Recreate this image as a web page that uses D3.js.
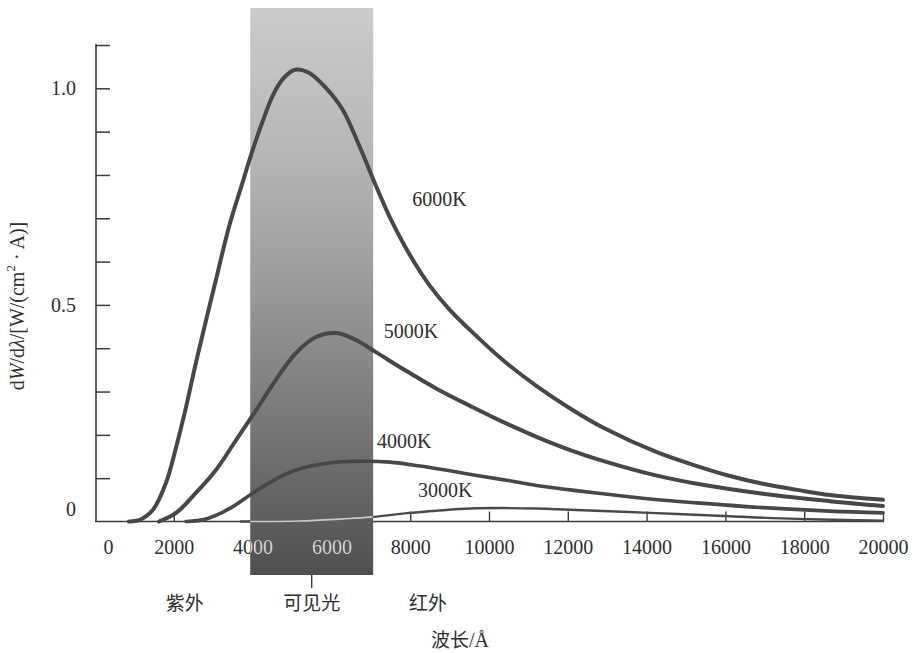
<!DOCTYPE html>
<html>
<head>
<meta charset="utf-8">
<script src="https://cdn.jsdelivr.net/npm/d3@7"></script>
<style>
  html, body { margin: 0; padding: 0; background: #ffffff; }
  svg { display: block; }
</style>
</head>
<body>
<svg id="chart" width="916" height="653"></svg>
<script>
// ---------- data ----------
const xTickValues = [0, 2000, 4000, 6000, 8000, 10000, 12000, 14000, 16000, 18000, 20000];
const yTickValues = [0.1, 0.2, 0.3, 0.4, 0.5, 0.6, 0.7, 0.8, 0.9, 1.0, 1.1];
const yLabelValues = [0, 0.5, 1.0];
const yLabelText = ["0", "0.5", "1.0"];

const wl6000 = [860, 1120, 1470, 1800, 2060, 2310, 2560, 2820, 3070, 3400, 3760, 4010, 4260, 4520, 4770, 5080, 5430, 5860, 6290, 6700, 7130, 7490, 8000, 8500, 9010, 9520, 10350, 11220, 12060, 12890, 14260, 15280, 16120, 16950, 17820, 18650, 20000];
const val6000 = [0, 0.003, 0.027, 0.089, 0.172, 0.264, 0.366, 0.465, 0.558, 0.680, 0.787, 0.860, 0.925, 0.985, 1.022, 1.043, 1.036, 1.001, 0.950, 0.869, 0.775, 0.701, 0.614, 0.544, 0.488, 0.442, 0.373, 0.312, 0.261, 0.217, 0.160, 0.128, 0.105, 0.087, 0.073, 0.061, 0.050];

const wl5000 = [1620, 2060, 2560, 3070, 3580, 4090, 4590, 5100, 5610, 6120, 6620, 7130, 7820, 8680, 9520, 10350, 11220, 12060, 12890, 14210, 15280, 16950, 18650, 20000];
const val5000 = [0, 0.020, 0.066, 0.119, 0.188, 0.257, 0.327, 0.389, 0.426, 0.435, 0.419, 0.391, 0.352, 0.306, 0.267, 0.230, 0.195, 0.165, 0.140, 0.107, 0.087, 0.064, 0.047, 0.036];

const wl4000 = [2310, 2820, 3400, 4010, 4590, 5100, 5940, 6730, 7490, 8250, 9010, 9770, 10530, 11290, 12060, 12890, 14090, 15280, 16950, 18650, 20000];
const val4000 = [0, 0.006, 0.029, 0.066, 0.098, 0.119, 0.135, 0.139, 0.137, 0.128, 0.117, 0.105, 0.094, 0.082, 0.073, 0.064, 0.052, 0.043, 0.032, 0.024, 0.020];

const wl3000 = [3680, 5200, 6290, 6980, 8000, 8680, 9520, 10350, 11220, 12060, 14090, 16120, 17820, 20000];
const val3000 = [0, 0.001, 0.006, 0.010, 0.020, 0.025, 0.030, 0.031, 0.030, 0.027, 0.020, 0.012, 0.006, 0.002];

const seriesNames = ["6000K", "5000K", "4000K", "3000K"];
const labelAnchorWl = [8050, 7330, 7160, 8200];    // where each curve label sits (wavelength)
const labelAnchorVal = [0.74, 0.435, 0.18, 0.068];  // and at which height

const visibleBand = [3940, 7060];
const bandNames = ["紫外", "可见光", "红外"];
const bandNameWl = [2280, 5500, 8450];

// ---------- layout ----------
const svg = d3.select("#chart");
const x = d3.scaleLinear().domain([0, 20000]).range([95, 883]);
const y = d3.scaleLinear().domain([0, 1.1]).range([521.5, 45]);
const axisColor = "#3c3c3c";
const textColor = "#2e2e2e";
const serif = "'Liberation Serif', 'Times New Roman', serif";
const cjk = "'Noto Sans CJK SC', sans-serif";
const bandTop = 8, bandBottom = 575;

const defs = svg.append("defs");
const grad = defs.append("linearGradient").attr("id", "bandGrad")
  .attr("x1", 0).attr("y1", 0).attr("x2", 0).attr("y2", 1);
[[0, "#cbcbcb"], [0.25, "#b7b7b7"], [0.5, "#999999"], [0.75, "#757575"], [1, "#4f4f4f"]]
  .forEach(([o, c]) => grad.append("stop").attr("offset", o).attr("stop-color", c));
defs.append("clipPath").attr("id", "bandClip").append("rect")
  .attr("x", x(visibleBand[0])).attr("y", bandTop)
  .attr("width", x(visibleBand[1]) - x(visibleBand[0])).attr("height", bandBottom - bandTop);

const line = d3.line().x(d => x(d[0])).y(d => Math.min(y(0), y(d[1]))).curve(d3.curveCatmullRom.alpha(0.5));
const zip = (a, b) => a.map((v, i) => [v, b[i]]);
const series = [zip(wl6000, val6000), zip(wl5000, val5000), zip(wl4000, val4000), zip(wl3000, val3000)];
const widths = [4, 4, 3.6, 2.4];

// ---------- axes ----------
const gAx = svg.append("g");
gAx.append("g").attr("transform", `translate(${x(0) + 1},0)`)
  .call(d3.axisRight(y).tickValues(yTickValues).tickSize(14).tickFormat(""))
  .call(g => { g.select(".domain").remove(); g.selectAll("line").attr("stroke", axisColor).attr("stroke-width", 1.5); });
gAx.append("line").attr("x1", x(0) + 1).attr("x2", x(0) + 1).attr("y1", y(1.1) - 1).attr("y2", y(0))
  .attr("stroke", axisColor).attr("stroke-width", 1.6);
gAx.append("g").attr("transform", `translate(0,${y(0)})`)
  .call(d3.axisTop(x).tickValues(xTickValues.slice(1)).tickSize(10).tickFormat(""))
  .call(g => { g.select(".domain").remove(); g.selectAll("line").attr("stroke", axisColor).attr("stroke-width", 1.4); });
gAx.append("line").attr("x1", x(0)).attr("x2", x(20000) + 1).attr("y1", y(0)).attr("y2", y(0))
  .attr("stroke", axisColor).attr("stroke-width", 1.6);

// 3000K curve lies under the band
svg.append("path").datum(series[3]).attr("d", line)
  .attr("fill", "none").attr("stroke", "#4a4a4a").attr("stroke-width", widths[3]);

// ---------- visible-light band ----------
svg.append("rect")
  .attr("x", x(visibleBand[0])).attr("y", bandTop)
  .attr("width", x(visibleBand[1]) - x(visibleBand[0])).attr("height", bandBottom - bandTop)
  .attr("fill", "url(#bandGrad)");
svg.append("path").datum(series[3]).attr("d", line).attr("clip-path", "url(#bandClip)")
  .attr("fill", "none").attr("stroke", "#c9c9c9").attr("stroke-width", 1.6);
svg.append("line")
  .attr("x1", x((visibleBand[0] + visibleBand[1]) / 2)).attr("x2", x((visibleBand[0] + visibleBand[1]) / 2))
  .attr("y1", bandBottom).attr("y2", bandBottom + 13)
  .attr("stroke", axisColor).attr("stroke-width", 1.4);

// ---------- curves ----------
[0, 1, 2].forEach(i => {
  svg.append("path").datum(series[i]).attr("d", line)
    .attr("fill", "none").attr("stroke", "#474747").attr("stroke-width", widths[i])
    .attr("stroke-linejoin", "round").attr("stroke-linecap", "round");
});

// ---------- tick labels ----------
function xLabels(g, color) {
  g.attr("transform", `translate(0,${y(0)})`)
    .call(d3.axisBottom(x).tickValues(xTickValues).tickSize(0).tickPadding(18).tickFormat(d3.format("d")))
    .call(g2 => {
      g2.select(".domain").remove();
      g2.selectAll("text").attr("fill", color).attr("font-family", serif).attr("font-size", 20)
        .attr("dx", d => d === 0 ? 13 : 0);
    });
}
xLabels(svg.append("g"), textColor);
xLabels(svg.append("g").attr("clip-path", "url(#bandClip)"), "#d6d6d6");

svg.append("g").attr("transform", `translate(${x(0)},0)`)
  .call(d3.axisLeft(y).tickValues(yLabelValues).tickSize(0).tickPadding(19)
    .tickFormat((d, i) => yLabelText[i]))
  .call(g => {
    g.select(".domain").remove();
    g.selectAll("text").attr("fill", textColor).attr("font-family", serif).attr("font-size", 20)
      .attr("dy", d => d === 0 ? "-0.32em" : "0.32em");
  });

// ---------- curve labels ----------
svg.append("g").selectAll("text").data(seriesNames).join("text")
  .attr("x", (d, i) => x(labelAnchorWl[i])).attr("y", (d, i) => y(labelAnchorVal[i]))
  .attr("dominant-baseline", "middle")
  .attr("font-family", serif).attr("font-size", 20).attr("fill", textColor)
  .text(d => d);

// ---------- region names & axis titles ----------
svg.append("g").selectAll("text").data(bandNames).join("text")
  .attr("x", (d, i) => x(bandNameWl[i])).attr("y", 605)
  .attr("text-anchor", "middle").attr("dominant-baseline", "middle")
  .attr("font-family", cjk).attr("font-size", 19).attr("fill", textColor)
  .text(d => d);

svg.append("text").attr("x", 460).attr("y", 642)
  .attr("text-anchor", "middle").attr("dominant-baseline", "middle")
  .attr("fill", textColor).attr("font-size", 19)
  .call(t => {
    t.append("tspan").attr("font-family", cjk).text("波长");
    t.append("tspan").attr("font-family", serif).attr("font-size", 20).text("/Å");
  });

const yt = svg.append("text")
  .attr("transform", "translate(24,306) rotate(-90)")
  .attr("text-anchor", "middle")
  .attr("font-family", serif).attr("font-size", 20).attr("fill", textColor);
yt.append("tspan").text("d");
yt.append("tspan").attr("font-style", "italic").text("W");
yt.append("tspan").text("/d");
yt.append("tspan").attr("font-style", "italic").text("λ");
yt.append("tspan").text("/[W/(cm");
yt.append("tspan").attr("font-size", 13).attr("dy", "-0.7em").text("2");
yt.append("tspan").attr("dy", "0.45em").text(" · A)]");
</script>
</body>
</html>
